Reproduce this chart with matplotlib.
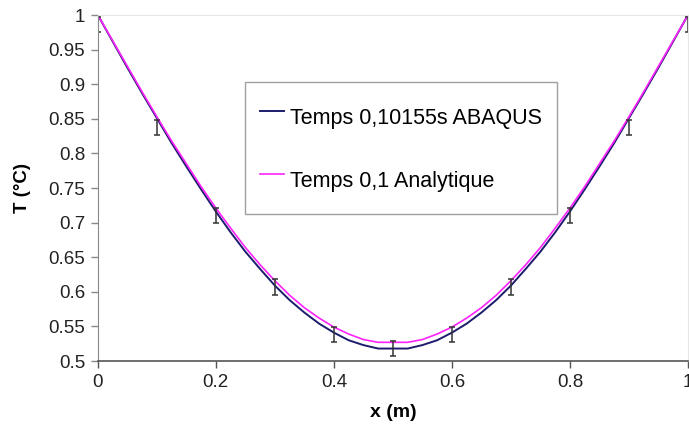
import numpy as np
import matplotlib.pyplot as plt
from matplotlib.ticker import FuncFormatter, MultipleLocator

plt.rcParams['font.family'] = ['Liberation Sans', 'DejaVu Sans']

# sample positions (m)
x = [0.0, 0.025, 0.05, 0.075, 0.1, 0.125, 0.15, 0.175, 0.2, 0.225, 0.25, 0.275,
     0.3, 0.325, 0.35, 0.375, 0.4, 0.425, 0.45, 0.475,
     0.525, 0.55, 0.575, 0.6, 0.625, 0.65, 0.675, 0.7, 0.725, 0.75, 0.775,
     0.8, 0.825, 0.85, 0.875, 0.9, 0.925, 0.95, 0.975, 1.0]

# ABAQUS, t = 0.10155 s
t_abaqus = [1.000, 0.962, 0.924, 0.887, 0.851, 0.815, 0.781, 0.748, 0.716, 0.686, 0.658, 0.633,
            0.609, 0.588, 0.570, 0.554, 0.541, 0.530, 0.523, 0.518,
            0.518, 0.523, 0.530, 0.541, 0.554, 0.570, 0.588, 0.609, 0.633, 0.658, 0.686,
            0.716, 0.748, 0.781, 0.815, 0.851, 0.887, 0.924, 0.962, 1.000]

# analytical, t = 0.1
t_analytic = [1.000, 0.963, 0.926, 0.889, 0.853, 0.818, 0.785, 0.752, 0.721, 0.692, 0.664, 0.639,
              0.616, 0.595, 0.577, 0.562, 0.549, 0.539, 0.531, 0.527,
              0.527, 0.531, 0.539, 0.549, 0.562, 0.577, 0.595, 0.616, 0.639, 0.664, 0.692,
              0.721, 0.752, 0.785, 0.818, 0.853, 0.889, 0.926, 0.963, 1.000]

# error bar markers
x_err = [0.0, 0.1, 0.2, 0.3, 0.4, 0.5, 0.6, 0.7, 0.8, 0.9, 1.0]
y_err = [0.986, 0.838, 0.710, 0.607, 0.538, 0.518, 0.538, 0.607, 0.710, 0.838, 0.986]
err = 0.011

fig = plt.figure(figsize=(6.89, 4.29), dpi=100)
ax = fig.add_axes([0.142, 0.1585, 0.8565, 0.8065])

ax.plot(x, t_abaqus, color='#1c1c6e', linewidth=1.4, label='Temps 0,10155s ABAQUS')
ax.plot(x, t_analytic, color='#ff22ff', linewidth=1.2, label='Temps 0,1 Analytique')
ax.errorbar(x_err, y_err, yerr=err, fmt='none', ecolor='#333333',
            elinewidth=1.1, capsize=2.5, capthick=1.1)

ax.set_xlim(0, 1)
ax.set_ylim(0.5, 1)
ax.xaxis.set_major_locator(MultipleLocator(0.2))
ax.yaxis.set_major_locator(MultipleLocator(0.05))
fmt = FuncFormatter(lambda v, p: '%g' % round(v, 2))
ax.xaxis.set_major_formatter(fmt)
ax.yaxis.set_major_formatter(fmt)

ax.tick_params(axis='both', labelsize=13.5, colors='#222222', length=5, width=1, pad=4)
ax.tick_params(axis='x', color='#555555')
ax.tick_params(axis='y', color='#888888')

for s in ['top', 'right']:
    ax.spines[s].set_color('#e6e6e6')
ax.spines['left'].set_color('#888888')
ax.spines['bottom'].set_color('#555555')
ax.spines['bottom'].set_linewidth(1.2)

ax.set_xlabel('x (m)', fontsize=14, fontweight='bold', labelpad=10)
ax.set_ylabel('T (°C)', fontsize=13.5, fontweight='bold', labelpad=13)

leg = ax.legend(loc='upper left', bbox_to_anchor=(0.249, 0.805), fontsize=15.5,
                frameon=True, fancybox=False, handlelength=1.1, handletextpad=0.3,
                handleheight=2.4, labelspacing=1.12, borderpad=0.7, borderaxespad=0)
leg.get_frame().set_edgecolor('#888888')
leg.get_frame().set_linewidth(1.0)

fig.savefig('out.png', dpi=100)
